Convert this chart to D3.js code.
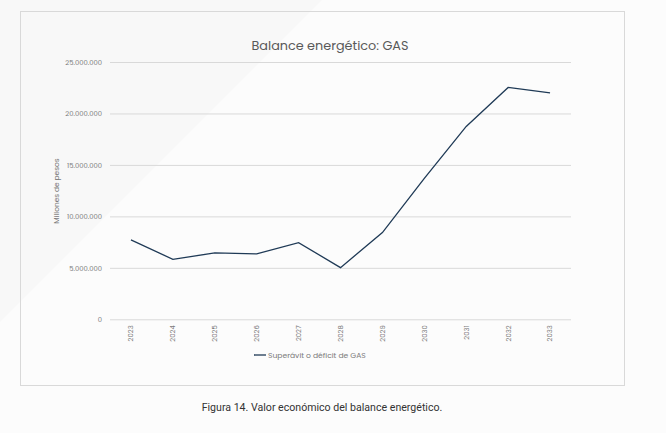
<!DOCTYPE html>
<html><head><meta charset="utf-8">
<script src="https://cdn.jsdelivr.net/npm/d3@7"></script>
<style>
html,body{margin:0;padding:0;background:#fcfcfc;}
svg{display:block;}
</style></head><body>
<script>
const years = ["2023","2024","2025","2026","2027","2028","2029","2030","2031","2032","2033"];
const values = [7710000,5830000,6450000,6350000,7450000,5020000,8430000,13690000,18740000,22530000,22000000];
const yTicks = [0,5000000,10000000,15000000,20000000,25000000];
const seriesName = "Superávit o déficit de GAS";
const title = "Balance energético: GAS";
const yTitle = "Millones de pesos";
const caption = "Figura 14. Valor económico del balance energético.";

const W=666,H=433;
const svg=d3.select("body").append("svg").attr("width",W).attr("height",H);
svg.append("rect").attr("width",W).attr("height",H).attr("fill","#fcfcfc");
svg.append("path").attr("d","M0,0 L322,0 L0,322 Z").attr("fill","#f8f8f8");

svg.append("rect").attr("x",20.5).attr("y",11.5).attr("width",604).attr("height",374)
  .attr("fill","none").attr("stroke","#d9d9d9").attr("stroke-width",1);

const m={l:110,r:571,t:62,b:319.3};
const x=d3.scaleBand().domain(years).range([m.l,m.r]);
const y=d3.scaleLinear().domain([0,25000000]).range([m.b,m.t]);
const fmt=d=>d3.format(",")(d).replace(/,/g,".");
const font="Poppins, 'Open Sans', sans-serif";
const tc="#7a7a7a";

const ya=svg.append("g").attr("transform",`translate(${m.l},0)`)
  .call(d3.axisLeft(y).tickValues(yTicks).tickSize(-(m.r-m.l)).tickPadding(8).tickFormat(fmt));
ya.select(".domain").remove();
ya.selectAll(".tick line").attr("stroke","#d9d9d9");
ya.selectAll(".tick text").attr("fill",tc).attr("font-size","6.8px").attr("font-family",font);

const xa=svg.append("g").attr("transform",`translate(0,${m.b})`)
  .call(d3.axisBottom(x).tickSize(0).tickPadding(0));
xa.select(".domain").remove();
xa.selectAll(".tick text").attr("fill",tc).attr("font-size","6.8px").attr("font-family",font)
  .attr("transform","rotate(-90)").attr("text-anchor","end").attr("dy","0.35em").attr("x",-6).attr("y",0);

const line=d3.line().x((d,i)=>x(years[i])+x.bandwidth()/2).y(d=>y(d));
svg.append("path").datum(values).attr("d",line).attr("fill","none")
  .attr("stroke","#1f3a56").attr("stroke-width",1.3);

svg.append("text").attr("x",330).attr("y",50).attr("text-anchor","middle")
  .attr("font-family",font).attr("font-size","12.8px").attr("fill","#595959").text(title);

svg.append("text").attr("transform","translate(59,191) rotate(-90)").attr("text-anchor","middle")
  .attr("font-family",font).attr("font-size","7.4px").attr("fill",tc).text(yTitle);

svg.append("line").attr("x1",254).attr("x2",266).attr("y1",355).attr("y2",355)
  .attr("stroke","#1f3a56").attr("stroke-width",1.3);
svg.append("text").attr("x",268).attr("y",357.5).attr("font-family",font).attr("font-size","7.6px")
  .attr("fill",tc).text(seriesName);

svg.append("text").attr("x",322).attr("y",411).attr("text-anchor","middle")
  .attr("font-family","Roboto, sans-serif").attr("font-size","10.6px").attr("fill","#333")
  .text(caption);
</script>
</body></html>
